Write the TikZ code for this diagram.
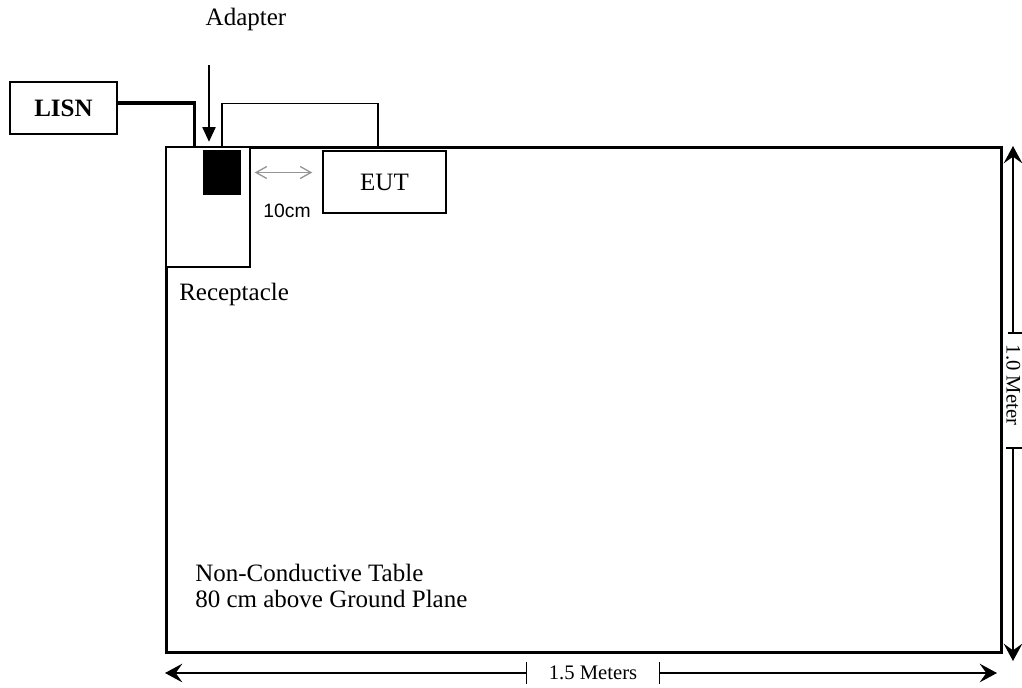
\documentclass[tikz,border=0pt]{standalone}
\usepackage{fontspec}
\setmainfont{Liberation Serif}
\setsansfont{Liberation Sans}
\usepackage{tikz}
\usetikzlibrary{arrows.meta}
\pgfdeclarelayer{edgelayer}
\pgfdeclarelayer{nodelayer}
\pgfsetlayers{edgelayer,nodelayer,main}
\definecolor{gapgrey}{RGB}{150,150,150}
\tikzstyle{tablebox}=[draw=black, line width=2.25pt, minimum width=626.25pt, minimum height=378.75pt, inner sep=0pt]
\tikzstyle{box}=[draw=black, line width=1.1pt, fill=white, inner sep=0pt, font=\fontsize{18.75}{22}\selectfont]
\tikzstyle{boldbox}=[box, font=\fontsize{18.75}{22}\selectfont\bfseries]
\tikzstyle{plug}=[fill=black, inner sep=0pt, minimum width=28.5pt, minimum height=33.75pt]
\tikzstyle{label}=[inner sep=0pt, font=\fontsize{18.75}{22}\selectfont]
\tikzstyle{dimlabel}=[inner sep=0pt, font=\fontsize{15.5}{18}\selectfont]
\tikzstyle{cable}=[draw=black, line width=1.1pt]
\tikzstyle{mains}=[draw=black, line width=2.6pt]
\tikzstyle{pointer}=[draw=black, line width=0.8pt, -{Triangle[length=11pt,width=10pt]}]
\tikzstyle{gaparrow}=[draw=gapgrey, line width=1pt, {Straight Barb[length=8pt,width=9pt]}-{Straight Barb[length=8pt,width=9pt]}]
\tikzstyle{dim}=[draw=black, line width=1pt]
\tikzstyle{dimarrow}=[dim, -{Stealth[length=13pt,width=14pt,inset=5pt]}]

\begin{document}
\begin{tikzpicture}[x=0.75pt, y=-0.75pt]
	\useasboundingbox (0,0) rectangle (1022,687);
	\begin{pgfonlayer}{nodelayer}
		\node [style=tablebox] (table) at (583.5,399.5) {};
		\node [style=boldbox, minimum width=80.25pt, minimum height=39pt] (lisn) at (63.5,108) {LISN};
		\node [style=box, minimum width=63pt, minimum height=90pt] (recept) at (208,207) {};
		\node [style=plug] (adapter) at (222,172.5) {};
		\node [style=box, minimum width=92.25pt, minimum height=46.5pt] (eut) at (384.5,182) {EUT};
		\node [style=label, anchor=base] (adlabel) at (246,25) {Adapter};
		\node [style=label, anchor=base west] (reclabel) at (179,300) {Receptacle};
		\node [style=label, anchor=base west] (tabline1) at (195,581) {Non-Conductive Table};
		\node [style=label, anchor=base west] (tabline2) at (195,607) {80 cm above Ground Plane};
		\node [inner sep=0pt, font=\sffamily\fontsize{14.5}{17}\selectfont, anchor=base] (gaplabel) at (287,217) {10cm};
		% dimensions
		\node [style=dimlabel, inner xsep=16.5pt, minimum height=16.5pt] (wlabel) at (593,673) {1.5 Meters};
		\node [style=dimlabel, rotate=-90, anchor=base] (hlabel) at (1006.5,385) {1.0 Meter};
		\coordinate (adtop) at (209,65);
		\coordinate (socket) at (194.5,147);
		\coordinate (eutplug) at (378,147);
		\coordinate (wleft) at (165,673);
		\coordinate (wright) at (997,673);
		\coordinate (htop) at (1013,333);
		\coordinate (hbot) at (1013,448);
		\coordinate (hup) at (1013,146);
		\coordinate (hdown) at (1013,661);
	\end{pgfonlayer}
	\begin{pgfonlayer}{edgelayer}
		\draw [style=mains] (lisn.east |- 0,103) -| (socket);
		\draw [style=cable] (adapter.north) -- ++(0,-46) -| (eutplug);
		\draw [style=pointer, shorten >=6pt] (adtop) -- (adtop |- adapter.north);
		\draw [style=gaparrow, shorten <=3pt, shorten >=7.5pt] (recept.east |- adapter) -- (eut.west |- adapter);
		\draw [style=dimarrow] (wlabel.west) -- (wleft);
		\draw [style=dimarrow] (wlabel.east) -- (wright);
		\draw [style=dim] (wlabel.north west) -- (wlabel.south west);
		\draw [style=dim] (wlabel.north east) -- (wlabel.south east);
		\draw [style=dimarrow] (htop) -- (hup);
		\draw [style=dimarrow] (hbot) -- (hdown);
		\draw [style=dim] (htop) ++(-5,0) -- ++(14,0);
		\draw [style=dim] (hbot) ++(-7,0) -- ++(16,0);
	\end{pgfonlayer}
\end{tikzpicture}
\end{document}
